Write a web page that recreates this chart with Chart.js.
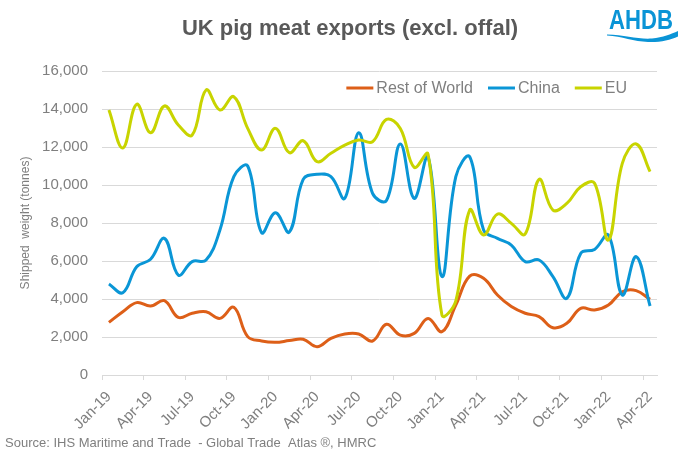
<!DOCTYPE html>
<html>
<head>
<meta charset="utf-8">
<script src="https://cdn.jsdelivr.net/npm/chart.js@4/dist/chart.umd.min.js"></script>
<style>
  body { margin: 0; background: #fff; }
  canvas { display: block; }
</style>
</head>
<body>
<canvas id="exportsChart" width="680" height="457"></canvas>
<script>
// Data (tonnes)
const months = ['Jan-19', 'Feb-19', 'Mar-19', 'Apr-19', 'May-19', 'Jun-19', 'Jul-19', 'Aug-19', 'Sep-19', 'Oct-19', 'Nov-19', 'Dec-19',
    'Jan-20', 'Feb-20', 'Mar-20', 'Apr-20', 'May-20', 'Jun-20', 'Jul-20', 'Aug-20', 'Sep-20', 'Oct-20', 'Nov-20', 'Dec-20',
    'Jan-21', 'Feb-21', 'Mar-21', 'Apr-21', 'May-21', 'Jun-21', 'Jul-21', 'Aug-21', 'Sep-21', 'Oct-21', 'Nov-21', 'Dec-21',
    'Jan-22', 'Feb-22', 'Mar-22', 'Apr-22'];
const restOfWorld = [2770, 3330, 3810, 3630, 3910, 3030, 3250, 3330, 2980, 3560, 2020, 1790,
    1720, 1810, 1880, 1490, 1930, 2160, 2160, 1790, 2670, 2100, 2190, 2980,
    2280, 3680, 5200, 5090, 4210, 3600, 3250, 3070, 2490, 2720, 3510, 3420,
    3680, 4380, 4440, 3980];
const china = [4790, 4330, 5700, 6090, 7190, 5260, 5970, 6050, 7630, 10440, 11000, 7490,
    8540, 7520, 10300, 10560, 10440, 9300, 12750, 9560, 9180, 12160, 9300, 11490,
    5180, 10440, 11490, 7630, 7190, 6840, 5970, 6050, 5180, 4040, 6400, 6610,
    7370, 4210, 6230, 3630];
const eu = [13950, 11950, 14250, 12750, 14160, 13160, 12630, 15000, 13950, 14650, 12980, 11840,
    12980, 11700, 12330, 11230, 11670, 12100, 12370, 12280, 13450, 12980, 10930, 11620,
    3160, 3900, 8680, 7370, 8470, 7980, 7420, 10300, 8680, 9030, 9910, 10090,
    7100, 11140, 12160, 10700];
const yTicks = { min: 0, max: 16000, step: 2000 };

const FONT = '"Liberation Sans", Arial, sans-serif';
const GREY = '#7f7f7f';
const GRID = '#d9d9d9';
Chart.defaults.font.family = FONT;

// Title, in-plot legend, logo and source line
const decor = {
    id: 'decor',
    afterDraw(chart) {
        const ctx = chart.ctx;
        const area = chart.chartArea;
        ctx.save();

        ctx.fillStyle = '#595959';
        ctx.font = 'bold 22px ' + FONT;
        ctx.textAlign = 'center';
        ctx.textBaseline = 'middle';
        ctx.fillText('UK pig meat exports (excl. offal)', 350, 29);

        // legend
        ctx.font = '16px ' + FONT;
        ctx.textAlign = 'left';
        const lineLen = 27, textGap = 3, itemGap = 15;
        const items = chart.data.datasets.map(d => ({ label: d.label, color: d.borderColor, w: ctx.measureText(d.label).width }));
        const total = items.reduce((s, it) => s + lineLen + textGap + it.w, 0) + itemGap * (items.length - 1);
        let x = area.right - 30 - total;
        const y = 88;
        items.forEach(it => {
            ctx.strokeStyle = it.color;
            ctx.lineWidth = 3;
            ctx.beginPath();
            ctx.moveTo(x, y);
            ctx.lineTo(x + lineLen, y);
            ctx.stroke();
            ctx.fillStyle = GREY;
            ctx.fillText(it.label, x + lineLen + textGap, y + 1);
            x += lineLen + textGap + it.w + itemGap;
        });

        // source
        ctx.font = '13px ' + FONT;
        ctx.fillStyle = GREY;
        ctx.fillText('Source: IHS Maritime and Trade  - Global Trade  Atlas \u00AE, HMRC', 5, 443);

        // logo
        ctx.fillStyle = '#0a94d6';
        ctx.font = 'bold 28px ' + FONT;
        ctx.textBaseline = 'alphabetic';
        const lw = ctx.measureText('AHDB').width;
        ctx.save();
        ctx.translate(609, 29);
        ctx.scale(64 / lw, 1);
        ctx.fillText('AHDB', 0, 0);
        ctx.restore();
        ctx.beginPath();
        ctx.moveTo(607, 34.5);
        ctx.bezierCurveTo(625, 35, 638, 39.5, 652, 38.5);
        ctx.bezierCurveTo(663, 37.5, 671, 34, 678, 31);
        ctx.lineTo(678, 36.5);
        ctx.bezierCurveTo(670, 40, 660, 42.5, 648, 42);
        ctx.bezierCurveTo(634, 41.5, 622, 36.5, 607, 35.5);
        ctx.closePath();
        ctx.fill();

        ctx.restore();
    }
};

const ctx = document.getElementById('exportsChart').getContext('2d');
new Chart(ctx, {
    type: 'line',
    data: {
        labels: months,
        datasets: [
            { label: 'Rest of World', data: restOfWorld, borderColor: '#dd5f18', order: 3 },
            { label: 'China', data: china, borderColor: '#0a96d6', order: 2 },
            { label: 'EU', data: eu, borderColor: '#c8d400', order: 1 }
        ]
    },
    options: {
        responsive: false,
        animation: false,
        elements: {
            line: { borderWidth: 3, tension: 0.4, fill: false },
            point: { radius: 0 }
        },
        layout: { padding: { top: 71, right: 23, bottom: 25, left: 0 } },
        plugins: {
            legend: { display: false },
            title: { display: false },
            tooltip: { enabled: false }
        },
        scales: {
            x: {
                offset: true,
                grid: {
                    offset: true,
                    drawOnChartArea: false,
                    tickLength: 5,
                    color: c => (c.index % 3 === 0 ? GRID : 'rgba(0,0,0,0)')
                },
                border: { color: GRID },
                ticks: {
                    autoSkip: false,
                    maxRotation: 45,
                    minRotation: 45,
                    padding: 8,
                    color: GREY,
                    font: { size: 15 },
                    callback: (v, i) => (i % 3 === 0 ? months[i] : '')
                },
                afterFit: s => { s.height = 57; }
            },
            y: {
                min: yTicks.min,
                max: yTicks.max,
                grid: { color: GRID, drawTicks: false },
                border: { display: false },
                ticks: {
                    stepSize: yTicks.step,
                    padding: 14,
                    color: GREY,
                    font: { size: 15 },
                    callback: v => v.toLocaleString('en-US')
                },
                title: {
                    display: true,
                    text: 'Shipped  weight (tonnes)',
                    color: GREY,
                    font: { size: 12 },
                    padding: { top: 18, bottom: 0 }
                },
                afterFit: s => { s.width = 102; }
            }
        }
    },
    plugins: [decor]
});
</script>
</body>
</html>
